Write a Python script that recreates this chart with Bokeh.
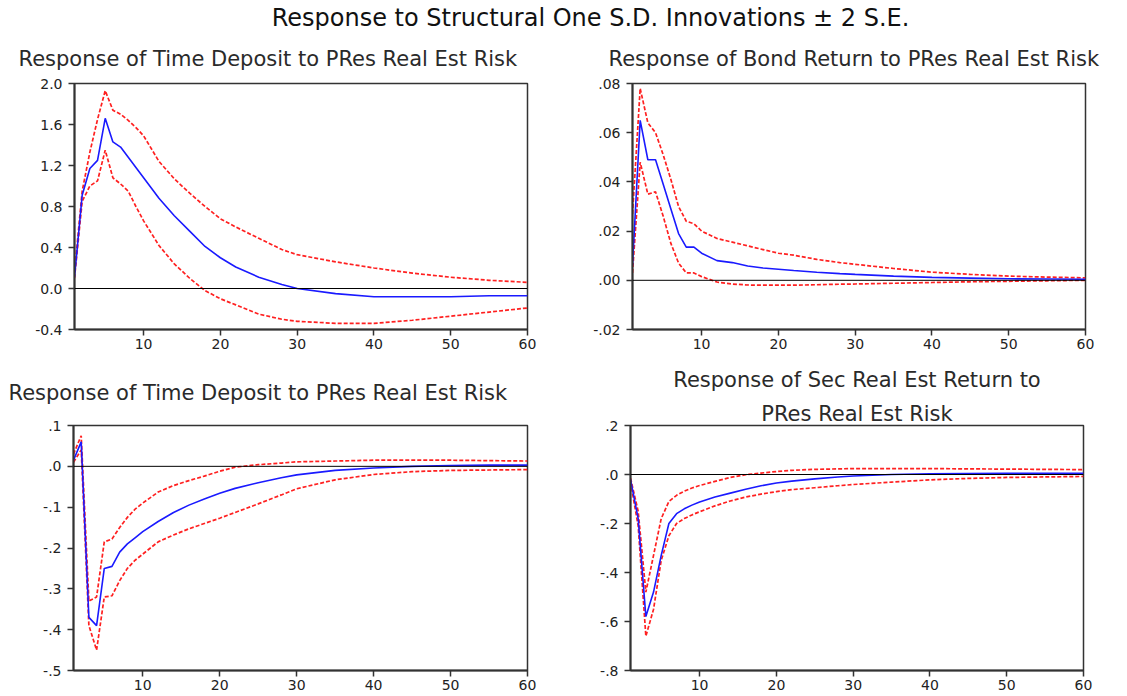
from bokeh.plotting import figure
from bokeh.layouts import column, row
from bokeh.models import Range1d, FixedTicker, Span, Title
from bokeh.core.properties import value
from bokeh.embed import file_html
from bokeh.resources import INLINE

# Horizon (periods after the shock)
periods = [1, 2, 3, 4, 5, 6, 7, 8, 9, 10, 12, 14, 16, 18, 20, 22, 25, 28, 30,
           35, 40, 45, 50, 55, 60]

# Time Deposit response (upper-left)
td_mid = [0.11, 0.91, 1.17, 1.25, 1.66, 1.43, 1.38, 1.28, 1.18, 1.08, 0.88, 0.71,
          0.56, 0.41, 0.30, 0.21, 0.11, 0.04, 0.00, -0.05, -0.08, -0.08, -0.08,
          -0.07, -0.07]
td_up = [0.16, 0.95, 1.33, 1.65, 1.93, 1.74, 1.70, 1.64, 1.57, 1.49, 1.24, 1.07,
         0.93, 0.80, 0.68, 0.60, 0.49, 0.38, 0.33, 0.26, 0.20, 0.15, 0.11, 0.08,
         0.06]
td_lo = [0.10, 0.85, 1.00, 1.05, 1.35, 1.08, 1.02, 0.95, 0.80, 0.66, 0.42, 0.24,
         0.10, -0.02, -0.10, -0.16, -0.25, -0.30, -0.32, -0.34, -0.34, -0.31,
         -0.27, -0.23, -0.19]

# Bond Return response (upper-right)
br_mid = [0.006, 0.065, 0.049, 0.049, 0.039, 0.029, 0.019, 0.0135, 0.0135, 0.011,
          0.008, 0.0072, 0.0058, 0.005, 0.0045, 0.004, 0.0033, 0.0027, 0.0024,
          0.0017, 0.0012, 0.0009, 0.0006, 0.0005, 0.0004]
br_up = [0.027, 0.078, 0.064, 0.060, 0.051, 0.041, 0.030, 0.024, 0.023, 0.020,
         0.017, 0.0155, 0.014, 0.0125, 0.011, 0.0102, 0.0085, 0.0072, 0.0065,
         0.0048, 0.0033, 0.0024, 0.0017, 0.0013, 0.0010]
br_lo = [0.003, 0.048, 0.035, 0.036, 0.026, 0.015, 0.007, 0.003, 0.003, 0.0015,
         -0.0007, -0.0015, -0.0019, -0.002, -0.002, -0.002, -0.0018, -0.0016,
         -0.0015, -0.0012, -0.0009, -0.0006, -0.0004, -0.0002, 0.0]

# Time Deposit response (lower-left)
td2_mid = [0.015, 0.06, -0.37, -0.39, -0.25, -0.245, -0.21, -0.19, -0.175, -0.16,
           -0.135, -0.113, -0.095, -0.08, -0.066, -0.054, -0.04, -0.028, -0.021,
           -0.01, -0.004, 0.0, 0.002, 0.003, 0.003]
td2_up = [0.03, 0.075, -0.33, -0.32, -0.185, -0.178, -0.15, -0.125, -0.105, -0.09,
          -0.063, -0.047, -0.035, -0.024, -0.012, -0.002, 0.004, 0.008, 0.011,
          0.013, 0.015, 0.015, 0.015, 0.014, 0.013]
td2_lo = [0.01, 0.04, -0.39, -0.45, -0.32, -0.317, -0.28, -0.25, -0.23, -0.215,
          -0.185, -0.168, -0.153, -0.14, -0.127, -0.113, -0.092, -0.07, -0.055,
          -0.033, -0.02, -0.013, -0.01, -0.009, -0.008]

# Sec Real Est Return response (lower-right)
sr_mid = [-0.02, -0.18, -0.58, -0.48, -0.33, -0.2, -0.16, -0.14, -0.125, -0.112,
          -0.092, -0.076, -0.06, -0.046, -0.035, -0.027, -0.018, -0.01, -0.006,
          0.0, 0.003, 0.004, 0.005, 0.005, 0.005]
sr_up = [-0.015, -0.15, -0.48, -0.33, -0.18, -0.11, -0.085, -0.068, -0.055, -0.045,
         -0.028, -0.012, -0.001, 0.006, 0.012, 0.017, 0.021, 0.023, 0.024, 0.024,
         0.024, 0.023, 0.022, 0.021, 0.02]
sr_lo = [-0.03, -0.21, -0.66, -0.55, -0.35, -0.25, -0.2, -0.18, -0.165, -0.152,
         -0.128, -0.108, -0.092, -0.08, -0.07, -0.062, -0.054, -0.046, -0.041,
         -0.031, -0.022, -0.016, -0.012, -0.01, -0.008]

x_ticks = [10, 20, 30, 40, 50, 60]

td_yticks = [-0.4, 0.0, 0.4, 0.8, 1.2, 1.6, 2.0]
td_ylabels = ["-0.4", "0.0", "0.4", "0.8", "1.2", "1.6", "2.0"]
br_yticks = [-0.02, 0.0, 0.02, 0.04, 0.06, 0.08]
br_ylabels = ["-.02", ".00", ".02", ".04", ".06", ".08"]
td2_yticks = [-0.5, -0.4, -0.3, -0.2, -0.1, 0.0, 0.1]
td2_ylabels = ["-.5", "-.4", "-.3", "-.2", "-.1", ".0", ".1"]
sr_yticks = [-0.8, -0.6, -0.4, -0.2, 0.0, 0.2]
sr_ylabels = ["-.8", "-.6", "-.4", "-.2", ".0", ".2"]

main_title = "Response to Structural One S.D. Innovations \u00b1 2 S.E."

AXIS_FONT = "DejaVu Sans"
TITLE_FONT = "DejaVu Sans"
TITLE_SIZE = "21px"


def make_panel(width, height, borders, mid, up, lo, yticks, ylabels, titles,
               align, title_offset, title_standoff, line_height=1.0):
    left, right, top, bottom = borders
    p = figure(width=width, height=height, output_backend="svg",
               toolbar_location=None,
               x_range=Range1d(1, 60),
               y_range=Range1d(yticks[0], yticks[-1]),
               min_border_left=left, min_border_right=right,
               min_border_top=top, min_border_bottom=bottom)
    p.grid.visible = False
    p.outline_line_color = "#333333"
    p.outline_line_width = 1.5
    p.background_fill_color = "white"
    p.border_fill_color = "white"

    # lines: blue response, red dashed +/- 2 S.E. bands
    p.add_layout(Span(location=0, dimension="width", line_color="black",
                      line_width=1))
    p.line(periods, up, line_color="#ff2020", line_width=1.7, line_dash="4 2")
    p.line(periods, lo, line_color="#ff2020", line_width=1.7, line_dash="4 2")
    p.line(periods, mid, line_color="#1a1aff", line_width=1.6)

    for ax in (p.xaxis[0], p.yaxis[0]):
        ax.axis_line_color = "#333333"
        ax.axis_line_width = 2
        ax.major_tick_line_color = "#333333"
        ax.major_tick_line_width = 1.5
        ax.major_tick_in = 0
        ax.major_tick_out = 6
        ax.minor_tick_line_color = None
        ax.major_label_text_font = AXIS_FONT
        ax.major_label_text_font_size = "14px"
        ax.major_label_text_color = "#222222"

    p.xaxis[0].ticker = FixedTicker(ticks=x_ticks)
    p.xaxis[0].major_label_standoff = 3
    p.yaxis[0].ticker = FixedTicker(ticks=yticks)
    p.yaxis[0].major_label_overrides = {t: s for t, s in zip(yticks, ylabels)}
    p.yaxis[0].major_label_standoff = 6

    # titles stacked above the frame, the last one outermost
    p.title.text = titles[-1]
    p.title.align = align
    p.title.text_font = TITLE_FONT
    p.title.text_font_size = TITLE_SIZE
    p.title.text_font_style = "normal"
    p.title.text_color = "#2a2a2a"
    p.title.text_line_height = line_height
    p.title.offset = title_offset
    p.title.standoff = title_standoff
    for t in reversed(titles[:-1]):
        p.add_layout(Title(text=t, align=align, text_font=TITLE_FONT,
                           text_font_size=TITLE_SIZE, text_font_style="normal",
                           text_color="#2a2a2a", offset=title_offset,
                           text_line_height=line_height, standoff=0), "above")
    return p


# header with the overall title
header = figure(width=1127, height=30, output_backend="svg",
                toolbar_location=None, x_range=Range1d(0, 1127),
                y_range=Range1d(0, 30), min_border=0)
header.axis.visible = False
header.grid.visible = False
header.outline_line_color = None
header.text(x=[590], y=[13], text=[main_title], text_align="center",
            text_baseline="middle", text_font=value(TITLE_FONT),
            text_font_size="24px", text_color="#111111")

p1 = make_panel(560, 325, (74, 33, 53, 26), td_mid, td_up, td_lo,
                td_yticks, td_ylabels,
                ["Response of Time Deposit to PRes Real Est Risk"],
                "left", -56, 26)
p2 = make_panel(567, 325, (72, 42, 53, 26), br_mid, br_up, br_lo,
                br_yticks, br_ylabels,
                ["Response of Bond Return to PRes Real Est Risk"],
                "left", -24, 26)
p3 = make_panel(560, 341, (73, 33, 70, 26), td2_mid, td2_up, td2_lo,
                td2_yticks, td2_ylabels,
                ["Response of Time Deposit to PRes Real Est Risk"],
                "left", -65, 42)
p4 = make_panel(567, 341, (70, 44, 70, 26), sr_mid, sr_up, sr_lo,
                sr_yticks, sr_ylabels,
                ["PRes Real Est Risk", "Response of Sec Real Est Return to"],
                "center", 0, 15, line_height=0.8)

layout = column(header, row(p1, p2), row(p3, p4))

with open("out.html", "w") as f:
    f.write(file_html(layout, INLINE))
